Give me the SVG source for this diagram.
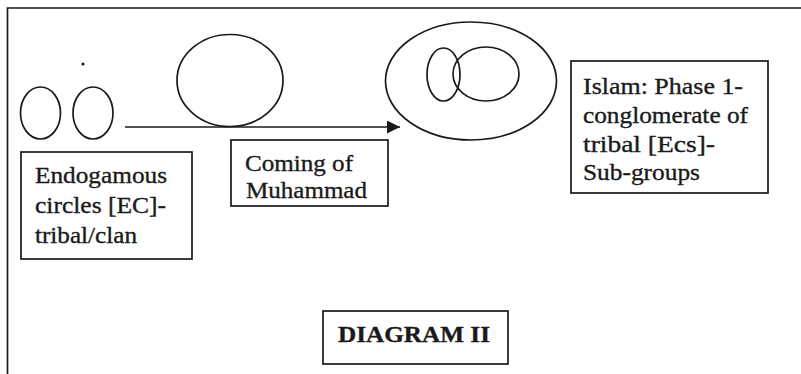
<svg xmlns="http://www.w3.org/2000/svg" width="801" height="374" viewBox="0 0 801 374">
<defs>
<style>
.shape{fill:none;stroke:#1a1a1a;stroke-width:1.7}
.box{fill:#fff;stroke:#1a1a1a;stroke-width:1.7}
text{fill:#1a1a1a;stroke:#1a1a1a;stroke-width:0.35;font-size:23.5px;font-family:'Liberation Serif','Times New Roman',serif}
.b{font-weight:bold}
</style>
<marker id="ah" markerWidth="14" markerHeight="14" refX="13" refY="6.5" orient="auto" markerUnits="userSpaceOnUse">
<path d="M0,0 L13,6.5 L0,13 Z" fill="#1a1a1a"/>
</marker>
</defs>
<rect width="801" height="374" fill="#fff"/>
<g id="frame">
<path class="shape" d="M7.5,374 L7.5,8 L801,8"/>
</g>
<g id="connectors">
<line class="shape" x1="125" y1="127" x2="400" y2="127" marker-end="url(#ah)"/>
</g>
<g id="ec-circles">
<ellipse class="shape" cx="40.5" cy="113" rx="20" ry="26"/>
<ellipse class="shape" cx="93" cy="113" rx="20" ry="26"/>
<circle cx="83" cy="64" r="1.6" fill="#1a1a1a"/>
</g>
<g id="muhammad-circle">
<ellipse class="shape" cx="230" cy="80.5" rx="53" ry="46"/>
</g>
<g id="islam-circle">
<ellipse class="shape" cx="471" cy="81" rx="85.5" ry="59"/>
<ellipse class="shape" cx="443.5" cy="74.5" rx="16.5" ry="26.5"/>
<ellipse class="shape" cx="486" cy="74" rx="33" ry="27"/>
</g>
<g id="box-ec">
<rect class="box" x="21" y="152" width="171" height="107"/>
<text x="35" y="183" textLength="132" lengthAdjust="spacingAndGlyphs">Endogamous</text>
<text x="35" y="213" textLength="131" lengthAdjust="spacingAndGlyphs">circles [EC]-</text>
<text x="35" y="243" textLength="102" lengthAdjust="spacingAndGlyphs">tribal/clan</text>
</g>
<g id="box-muhammad">
<rect class="box" x="231" y="140" width="157" height="66"/>
<text x="245" y="171" textLength="108" lengthAdjust="spacingAndGlyphs">Coming of</text>
<text x="246" y="198" textLength="121" lengthAdjust="spacingAndGlyphs">Muhammad</text>
</g>
<g id="box-islam">
<rect class="box" x="571" y="61" width="197" height="132"/>
<text x="583" y="94" textLength="160" lengthAdjust="spacingAndGlyphs">Islam: Phase 1-</text>
<text x="583" y="123" textLength="165" lengthAdjust="spacingAndGlyphs">conglomerate of</text>
<text x="583" y="152" textLength="132" lengthAdjust="spacingAndGlyphs">tribal [Ecs]-</text>
<text x="583" y="180" textLength="117" lengthAdjust="spacingAndGlyphs">Sub-groups</text>
</g>
<g id="title">
<rect class="box" x="323" y="311" width="185" height="53"/>
<text class="b" x="338" y="342" textLength="152" lengthAdjust="spacingAndGlyphs">DIAGRAM II</text>
</g>
</svg>
